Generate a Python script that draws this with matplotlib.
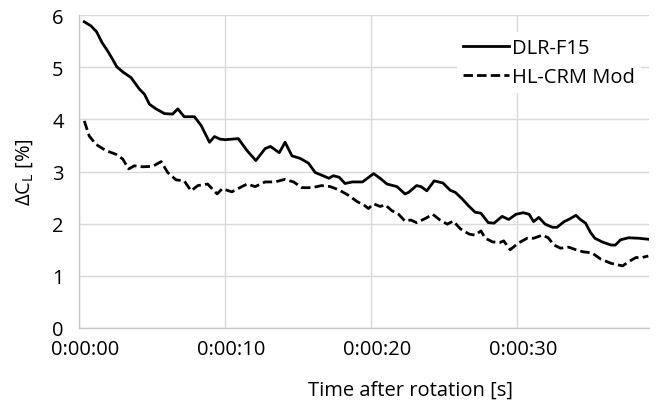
import matplotlib
matplotlib.use('Agg')
import matplotlib.pyplot as plt
import matplotlib.transforms as mtransforms
from matplotlib.ticker import FuncFormatter

plt.rcParams['font.family'] = ['Open Sans', 'DejaVu Sans']
plt.rcParams['mathtext.fontset'] = 'custom'
plt.rcParams['mathtext.rm'] = 'Open Sans'
plt.rcParams['mathtext.it'] = 'Open Sans'

# DLR-F15 (solid): time [s], delta CL [%]
t_dlr = [0.36, 0.82, 1.2, 1.58, 1.96, 2.3, 2.58, 2.99, 3.56, 3.9, 4.13, 4.48,
         4.82, 5.27, 5.85, 6.4, 6.76, 7.2, 7.9, 8.36, 8.93, 9.27, 9.66, 10.0,
         10.9, 11.5, 12.1, 12.74, 13.1, 13.7, 14.1, 14.57, 15.14, 15.7, 16.16,
         16.6, 17.1, 17.4, 17.8, 18.2, 18.7, 19.4, 20.16, 20.6, 21.07, 21.76,
         22.3, 22.55, 23.1, 23.4, 23.8, 24.3, 24.9, 25.4, 25.75, 26.2, 26.66,
         27.1, 27.5, 28.0, 28.4, 28.95, 29.4, 29.9, 30.4, 30.8, 31.1, 31.46,
         31.9, 32.4, 32.7, 33.2, 33.5, 34.0, 34.3, 34.66, 35.0, 35.3, 35.8,
         36.4, 36.7, 37.05, 37.6, 38.3, 39.0]
dcl_dlr = [5.87, 5.79, 5.68, 5.47, 5.31, 5.15, 5.01, 4.91, 4.80, 4.67, 4.58, 4.48,
           4.29, 4.20, 4.11, 4.10, 4.20, 4.05, 4.05, 3.88, 3.56, 3.67, 3.62, 3.61,
           3.63, 3.40, 3.21, 3.44, 3.48, 3.36, 3.56, 3.30, 3.25, 3.16, 2.98,
           2.93, 2.87, 2.92, 2.89, 2.77, 2.80, 2.80, 2.96, 2.87, 2.76, 2.71,
           2.57, 2.60, 2.73, 2.71, 2.63, 2.82, 2.78, 2.64, 2.60, 2.48, 2.34,
           2.22, 2.20, 2.02, 2.01, 2.14, 2.08, 2.18, 2.21, 2.18, 2.04, 2.12,
           1.99, 1.93, 1.93, 2.04, 2.08, 2.16, 2.08, 2.01, 1.83, 1.72, 1.65,
           1.59, 1.59, 1.69, 1.73, 1.72, 1.70]

# HL-CRM Mod (dashed)
t_hl = [0.36, 0.7, 1.16, 1.85, 2.53, 2.99, 3.4, 3.79, 4.36, 5.05, 5.62, 6.07,
        6.64, 7.2, 7.67, 8.13, 8.8, 9.45, 9.8, 10.46, 11.14, 11.5, 12.05, 12.74,
        13.4, 14.1, 14.68, 15.25, 15.94, 16.6, 17.2, 17.76, 18.4, 19.1, 19.4,
        19.8, 20.16, 20.6, 20.96, 21.4, 21.87, 22.3, 22.7, 23.1, 23.7, 24.2,
        24.7, 25.2, 25.6, 26.1, 26.7, 27.1, 27.5, 27.8, 28.3, 28.8, 29.06,
        29.5, 30.07, 30.66, 31.1, 31.7, 32.1, 32.5, 32.95, 33.5, 34.0, 34.5,
        35.1, 35.7, 36.4, 37.2, 37.6, 38.1, 38.5, 38.95]
dcl_hl = [3.97, 3.68, 3.52, 3.40, 3.33, 3.24, 3.05, 3.11, 3.09, 3.10, 3.19, 2.98,
          2.84, 2.82, 2.63, 2.73, 2.76, 2.57, 2.67, 2.61, 2.71, 2.76, 2.71, 2.80,
          2.80, 2.85, 2.80, 2.69, 2.69, 2.73, 2.71, 2.65, 2.55, 2.41, 2.38,
          2.29, 2.38, 2.33, 2.36, 2.25, 2.18, 2.05, 2.07, 2.02, 2.10, 2.18,
          2.07, 1.99, 2.05, 1.90, 1.80, 1.78, 1.86, 1.72, 1.65, 1.64, 1.67,
          1.50, 1.63, 1.72, 1.72, 1.78, 1.73, 1.59, 1.53, 1.55, 1.50, 1.46,
          1.44, 1.32, 1.24, 1.19, 1.27, 1.35, 1.35, 1.38]

x_ticks = [0, 10, 20, 30]
y_ticks = [0, 1, 2, 3, 4, 5, 6]

fig = plt.figure(figsize=(6.62, 4.06), dpi=100)
ax = fig.add_axes([79/662, 1-329/406, 570/662, 313/406])

ax.plot(t_dlr, dcl_dlr, color='black', lw=2.0, label='DLR-F15', zorder=3)
ax.plot(t_hl, dcl_hl, color='black', lw=2.0, ls=(0, (3.4, 1.5)), label='HL-CRM Mod', zorder=3)

ax.set_xlim(0, 39)
ax.set_ylim(0, 6)
ax.set_xticks(x_ticks)
ax.set_yticks(y_ticks)
ax.xaxis.set_major_formatter(FuncFormatter(
    lambda s, p: '%d:%02d:%02d' % (s // 3600, (s % 3600) // 60, s % 60)))

grid_c = '#d9d9d9'
ax.grid(True, color=grid_c, lw=1.0)
ax.set_axisbelow(True)
for side in ['top', 'right']:
    ax.spines[side].set_visible(False)
for side in ['left', 'bottom']:
    ax.spines[side].set_color('#c8c8c8')
    ax.spines[side].set_linewidth(1.0)

ax.tick_params(axis='both', length=0, labelsize=14.5, colors='black')
ax.tick_params(axis='x', pad=8)
ax.tick_params(axis='y', pad=11)
shift = mtransforms.ScaledTranslation(6/100, 0, fig.dpi_scale_trans)
for lbl in ax.get_xticklabels():
    lbl.set_transform(lbl.get_transform() + shift)

ax.set_xlabel('Time after rotation [s]', fontsize=14.5)
ax.xaxis.set_label_coords((410-79)/570, (329-381)/313)
ax.set_ylabel(r'$\mathregular{\Delta C_L}$ [%]', fontsize=14.5)
ax.yaxis.set_label_coords((35-79)/570, 0.5)

leg = ax.legend(loc='upper left', bbox_to_anchor=((457-79)/570, (329-33)/313),
                frameon=True, fontsize=14.5, handlelength=2.3, handletextpad=0.15,
                labelspacing=0.45, borderpad=0.3, borderaxespad=0)
leg.get_frame().set_facecolor('white')
leg.get_frame().set_edgecolor('none')
leg.get_frame().set_alpha(1)

fig.savefig('out.png', dpi=100)
